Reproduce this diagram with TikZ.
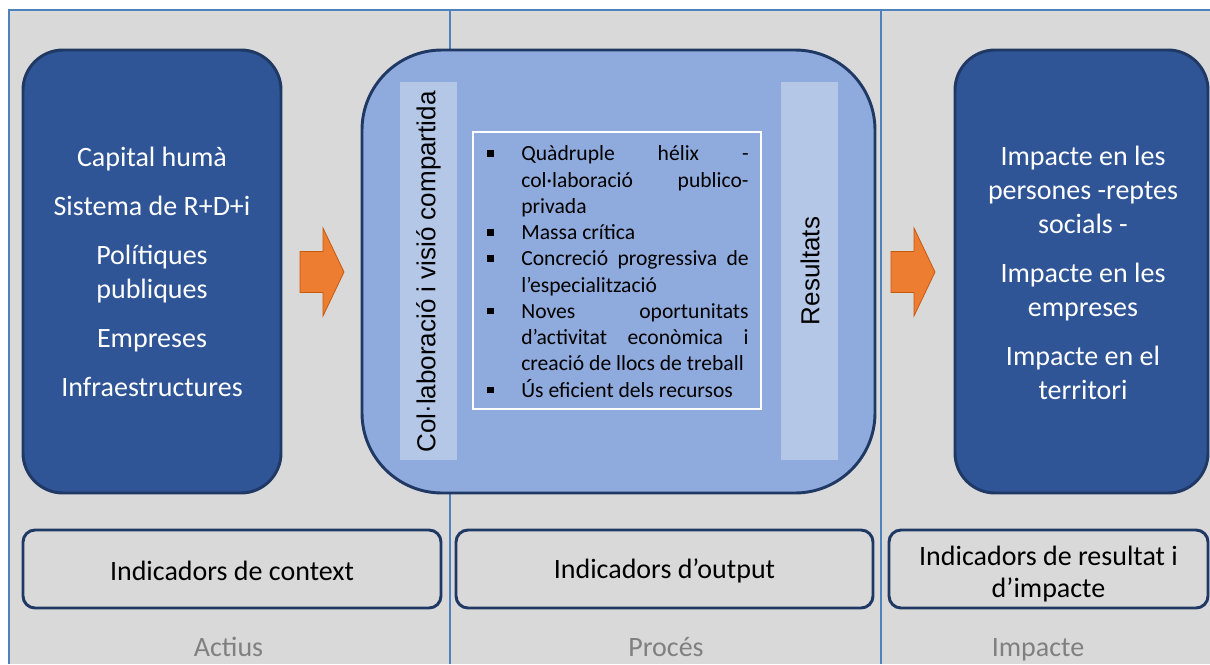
\documentclass[tikz,border=0pt]{standalone}
\usepackage{fontspec}
\setmainfont{Carlito}
\newfontfamily\arialfont{Liberation Sans}
\definecolor{bg}{HTML}{D9D9D9}
\definecolor{frameblue}{HTML}{4F81BD}
\definecolor{darkfill}{HTML}{2F5597}
\definecolor{darkline}{HTML}{203864}
\definecolor{midfill}{HTML}{8FAADC}
\definecolor{stripfill}{HTML}{B4C7E7}
\definecolor{orangefill}{HTML}{ED7D31}
\definecolor{orangeline}{HTML}{C55A11}
\definecolor{labelgrey}{HTML}{808080}
\newcommand{\sqb}{\makebox[25.5pt][l]{\rule[3pt]{5pt}{5pt}}}
\newcommand{\litem}{\par\noindent\hangindent=25.5pt\hangafter=1\relax\sqb}
\begin{document}
\begin{tikzpicture}[x=0.75pt,y=-0.75pt,
  bigbox/.style={draw=darkline, line width=2.2pt, fill=darkfill, rounded corners=30pt,
    minimum height=332.25pt, text=white, align=center,
    font=\fontsize{21}{25.5}\selectfont, inner sep=0pt},
  midbox/.style={draw=darkline, line width=2.2pt, fill=midfill, rounded corners=60pt,
    minimum height=332.25pt, minimum width=384.75pt, inner sep=0pt},
  strip/.style={fill=stripfill, minimum width=42.75pt, minimum height=283.5pt, inner sep=0pt},
  striptext/.style={rotate=90, font=\arialfont\fontsize{19.5}{23}\selectfont, text=black},
  listbox/.style={draw=white, line width=1.1pt, minimum width=216pt, minimum height=207.75pt, inner sep=0pt},
  listtext/.style={text width=196pt, align=justify, inner sep=0pt,
    font=\fontsize{16.2}{19.7}\selectfont, text=black},
  indbox/.style={draw=darkline, line width=2.2pt, rounded corners=9pt, minimum height=58.5pt,
    inner sep=0pt, align=center, font=\fontsize{21}{24}\selectfont, text=black},
  phase/.style={anchor=base, font=\fontsize{21}{25}\selectfont, text=labelgrey},
  blockarrow/.style={fill=orangefill, draw=orangeline, line width=0.6pt},
  divider/.style={draw=frameblue, line width=0.8pt}
]
\useasboundingbox (0,0) rectangle (1210,664);
\fill[white] (0,0) rectangle (1210,664);
\fill[bg] (9,10) rectangle (1210,664);
\draw[divider] (9,664) -- (9,10) -- (1210,10);
\draw[divider] (450,10) -- (450,664);
\draw[divider] (881,10) -- (881,664);

% left box
\node[bigbox, minimum width=193.5pt] (ctx) at (152,271.5) {};
\node[text=white, align=center, font=\fontsize{21}{25.5}\selectfont] (ctxt) at (152,272)
  {Capital humà\\[11.25pt] Sistema de R+D+i\\[11.25pt] Polítiques\\ publiques\\[11.25pt] Empreses\\[11.25pt] Infraestructures};

% middle box
\node[midbox] (proc) at (618.5,271.5) {};
\node[strip] (sl) at (428.5,271) {};
\node[striptext] (slt) at (428.5,272) {Col·laboració i visió compartida};
\node[strip] (sr) at (809.5,271) {};
\node[striptext] (srt) at (810,271) {Resultats};
\node[listbox] (lb) at (617,270.5) {};
\node[listtext] (lt) at (618,266) {\hyphenpenalty=10000\tolerance=10000\hbadness=10000
\litem Quàdruple hélix -\linebreak col·laboració publico-\linebreak privada
\litem Massa crítica
\litem Concreció progressiva de\linebreak l’especialització
\litem Noves oportunitats\linebreak d’activitat econòmica i\linebreak creació de llocs de treball
\litem Ús eficient dels recursos\par};

% right box
\node[bigbox, minimum width=189.75pt] (imp) at (1081.5,271.5) {};
\node[text=white, align=center, font=\fontsize{21}{25.5}\selectfont] (impt) at (1083,272.5)
  {Impacte en les\\ persones -reptes\\ socials -\\[11.25pt] Impacte en les\\ empreses\\[11.25pt] Impacte en el\\ territori};

% arrows
\coordinate (a1) at (300,272);
\coordinate (a2) at (891,272);
\draw[blockarrow] (a1) ++(0,-20.5) -- ++(23,0) -- ++(0,-23.5) -- ++(21,44) -- ++(-21,44) -- ++(0,-23.5) -- ++(-23,0) -- cycle;
\draw[blockarrow] (a2) ++(0,-20.5) -- ++(23,0) -- ++(0,-23.5) -- ++(21,44) -- ++(-21,44) -- ++(0,-23.5) -- ++(-23,0) -- cycle;

% indicator boxes
\node[indbox, minimum width=313.5pt] (i1) at (232,569) {};
\node[font=\fontsize{21}{24}\selectfont] (i1t) at (232,571) {Indicadors de context};
\node[indbox, minimum width=312.75pt] (i2) at (664.5,569) {};
\node[font=\fontsize{21}{24}\selectfont] (i2t) at (664.5,571) {Indicadors d’output};
\node[indbox, minimum width=239.25pt] (i3) at (1048.5,569) {};
\node[align=center, font=\fontsize{21}{24}\selectfont] (i3t) at (1048.5,574) {Indicadors de resultat i\\ d’impacte};

% phase labels
\node[phase] (p1) at (228.5,656) {Actius};
\node[phase] (p2) at (666,656) {Procés};
\node[phase] (p3) at (1038,656) {Impacte};
\end{tikzpicture}
\end{document}
